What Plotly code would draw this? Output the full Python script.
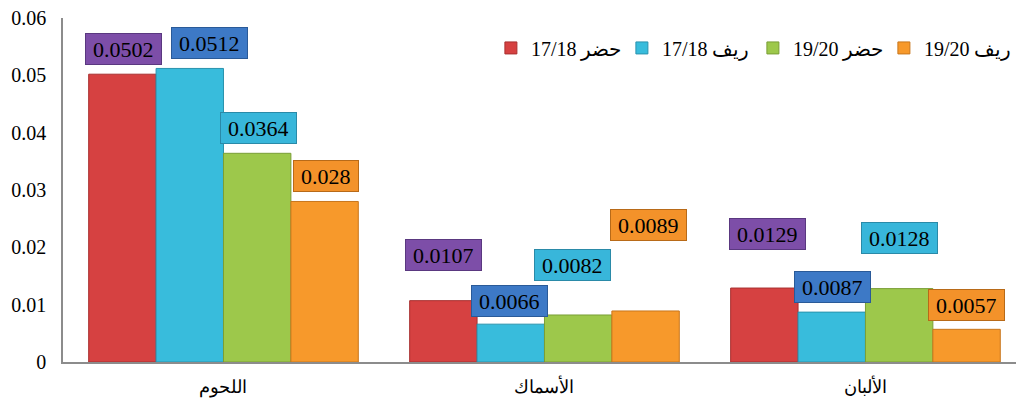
import plotly.graph_objects as go

categories = ["اللحوم", "الأسماك", "الألبان"]
series_names = ["17/18 حضر", "17/18 ريف", "19/20 حضر", "19/20 ريف"]
urban_1718 = [0.0502, 0.0107, 0.0129]
rural_1718 = [0.0512, 0.0066, 0.0087]
urban_1920 = [0.0364, 0.0082, 0.0128]
rural_1920 = [0.028, 0.0089, 0.0057]
series_values = [urban_1718, rural_1718, urban_1920, rural_1920]
y_ticks = [0, 0.01, 0.02, 0.03, 0.04, 0.05, 0.06]
y_tick_labels = ["0", "0.01", "0.02", "0.03", "0.04", "0.05", "0.06"]

# styling
bar_colors = ["#D64141", "#38BCDC", "#9DC84B", "#F7992B"]
bar_lines = ["#A83030", "#2A93AE", "#7A9E36", "#C8761C"]
box_colors = ["#7D4EA8", "#3D79C6", "#38B6DA", "#F3922A"]
box_lines = ["#5A3880", "#2A5A98", "#2A8AA8", "#B86A18"]
# label vertical offsets (px above bar top), per series per category
label_yshift = [[25, 46, 54], [25, 23, 25], [25, 50, 51], [25, 86, 24]]
label_xshift = [[1, 0, 3], [20, -1, 1], [1, -6, 0], [1, 3, 0]]

serif = "Times New Roman, Liberation Serif, DejaVu Serif, serif"
bargap = 0.16
n = len(series_values)
bw = (1 - bargap) / n

fig = go.Figure()
for k, (name, vals) in enumerate(zip(series_names, series_values)):
    fig.add_trace(go.Bar(
        x=list(range(len(categories))), y=vals, name=name,
        marker=dict(color=bar_colors[k], line=dict(color=bar_lines[k], width=1)),
    ))

annotations = []
for k, vals in enumerate(series_values):
    off = (k - (n - 1) / 2) * bw
    for i, v in enumerate(vals):
        annotations.append(dict(
            x=i + off, y=v, xref="x", yref="y", text=str(v), showarrow=False,
            yanchor="middle", xanchor="center",
            yshift=label_yshift[k][i], xshift=label_xshift[k][i],
            font=dict(family=serif, size=22, color="black"),
            bgcolor=box_colors[k], bordercolor=box_lines[k], borderwidth=1,
            borderpad=7, height=16,
        ))

fig.update_layout(
    width=1016, height=400,
    margin=dict(l=63, r=0, t=18, b=38, autoexpand=False),
    paper_bgcolor="white", plot_bgcolor="white",
    barmode="group", bargap=bargap, bargroupgap=0,
    showlegend=True,
    legend=dict(orientation="h", x=0.449, y=0.913, xanchor="left", yanchor="middle",
                font=dict(family=serif, size=20, color="black"),
                bgcolor="rgba(0,0,0,0)", traceorder="normal",
                entrywidth=86, entrywidthmode="pixels"),
    annotations=annotations,
    xaxis=dict(tickmode="array", tickvals=list(range(len(categories))), ticktext=categories,
               range=[-0.5, 2.469], showline=True, linecolor="#8C8C8C", linewidth=1.5,
               showgrid=False, zeroline=False, ticks="", automargin=False,
               ticklabelstandoff=8,
               tickfont=dict(family=serif, size=18, color="black")),
    yaxis=dict(range=[0, 0.06], tickvals=y_ticks, ticktext=y_tick_labels,
               showline=True, linecolor="#8C8C8C", linewidth=1.5,
               showgrid=False, zeroline=False, ticks="", ticklabelstandoff=11,
               automargin=False,
               tickfont=dict(family=serif, size=20, color="black")),
)

# remove the page's default 8px body margin so the figure fills the window
fig.write_html("out.html", config={"displayModeBar": False},
               post_script="document.body.style.margin='0';")
